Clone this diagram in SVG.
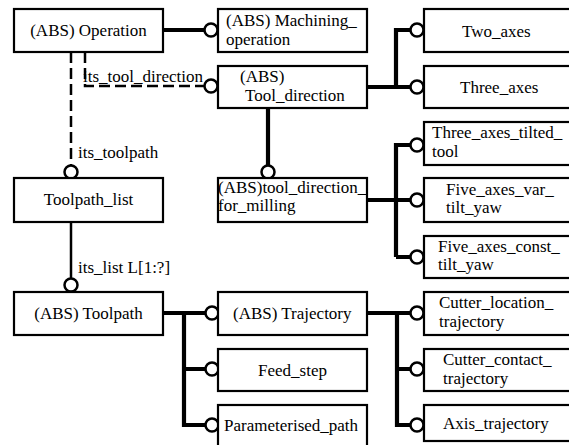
<svg xmlns="http://www.w3.org/2000/svg" width="569" height="445" viewBox="0 0 569 445">
  <style>
    .box { fill: #fff; stroke: #000; stroke-width: 2.2; }
    .t { font-family: "Liberation Serif", "Times New Roman", serif; font-size: 17px; fill: #000; }
    .c { text-anchor: middle; }
    .thick { fill: none; stroke: #000; stroke-width: 4.2; stroke-linejoin: miter; stroke-linecap: butt; }
    .thin { fill: none; stroke: #000; stroke-width: 2.5; }
    .dash { fill: none; stroke: #000; stroke-width: 2.5; stroke-dasharray: 11 5; }
    .end { fill: #fff; stroke: #000; stroke-width: 2.5; }
  </style>
  <rect x="0" y="0" width="569" height="445" fill="#fff"/>

  <!-- connectors -->
  <g id="connectors">
    <!-- Operation relations -->
    <path class="thick" d="M163,30 H205"/>
    <path class="dash" d="M85,52 V86 H205"/>
    <path class="dash" d="M71,52 V166"/>
    <path class="thin" d="M71,222 V278"/>
    <!-- Tool_direction subtypes -->
    <path class="thick" d="M268,108 V166"/>
    <path class="thick" d="M367,87 H410 M396,87 V30 H410"/>
    <!-- tool_direction_for_milling subtypes -->
    <path class="thick" d="M367,200 H410 M396,257 V145 H410 M396,257 H410"/>
    <!-- Toolpath subtypes -->
    <path class="thick" d="M163,313 H205 M184,313 V425 H205 M184,369 H205"/>
    <!-- Trajectory subtypes -->
    <path class="thick" d="M367,313 H410 M397,313 V425 H410 M397,369 H410"/>

    <circle class="end" cx="211" cy="30" r="6.5"/>
    <circle class="end" cx="211" cy="86" r="6.5"/>
    <circle class="end" cx="71" cy="172" r="6.5"/>
    <circle class="end" cx="71" cy="285" r="6.5"/>
    <circle class="end" cx="268" cy="172" r="6.5"/>
    <circle class="end" cx="417" cy="30" r="6.5"/>
    <circle class="end" cx="417" cy="87" r="6.5"/>
    <circle class="end" cx="417" cy="145" r="6.5"/>
    <circle class="end" cx="417" cy="200" r="6.5"/>
    <circle class="end" cx="417" cy="257" r="6.5"/>
    <circle class="end" cx="212" cy="313" r="6.5"/>
    <circle class="end" cx="212" cy="369" r="6.5"/>
    <circle class="end" cx="212" cy="425" r="6.5"/>
    <circle class="end" cx="417" cy="313" r="6.5"/>
    <circle class="end" cx="417" cy="369" r="6.5"/>
    <circle class="end" cx="417" cy="425" r="6.5"/>

    <text class="t" x="83" y="82">its_tool_direction</text>
    <text class="t" x="78" y="158">its_toolpath</text>
    <text class="t" x="78" y="273">its_list L[1:?]</text>
  </g>

  <g id="operation">
    <rect class="box" x="14" y="9" width="149" height="43"/>
    <text class="t c" x="88.5" y="36">(ABS) Operation</text>
  </g>
  <g id="machining_operation">
    <rect class="box" x="218" y="9" width="149" height="43"/>
    <text class="t" x="226" y="26">(ABS) Machining_</text>
    <text class="t" x="226" y="45">operation</text>
  </g>
  <g id="tool_direction">
    <rect class="box" x="218" y="66" width="149" height="42"/>
    <text class="t" x="240" y="82">(ABS)</text>
    <text class="t" x="245" y="101">Tool_direction</text>
  </g>
  <g id="two_axes">
    <rect class="box" x="424" y="9" width="150" height="43"/>
    <text class="t" x="462" y="37">Two_axes</text>
  </g>
  <g id="three_axes">
    <rect class="box" x="424" y="66" width="150" height="42"/>
    <text class="t" x="460" y="93">Three_axes</text>
  </g>
  <g id="toolpath_list">
    <rect class="box" x="14" y="178" width="149" height="44"/>
    <text class="t c" x="88.5" y="205">Toolpath_list</text>
  </g>
  <g id="tool_direction_for_milling">
    <rect class="box" x="218" y="178" width="149" height="44"/>
    <text class="t" x="218" y="193">(ABS)tool_direction_</text>
    <text class="t" x="218" y="211">for_milling</text>
  </g>
  <g id="three_axes_tilted_tool">
    <rect class="box" x="424" y="122" width="150" height="43"/>
    <text class="t" x="432" y="138">Three_axes_tilted_</text>
    <text class="t" x="432" y="157">tool</text>
  </g>
  <g id="five_axes_var_tilt_yaw">
    <rect class="box" x="424" y="178" width="150" height="44"/>
    <text class="t" x="446" y="195">Five_axes_var_</text>
    <text class="t" x="446" y="213">tilt_yaw</text>
  </g>
  <g id="five_axes_const_tilt_yaw">
    <rect class="box" x="424" y="236" width="150" height="42"/>
    <text class="t" x="438" y="252">Five_axes_const_</text>
    <text class="t" x="438" y="270">tilt_yaw</text>
  </g>
  <g id="toolpath">
    <rect class="box" x="14" y="292" width="149" height="43"/>
    <text class="t c" x="88.5" y="319">(ABS) Toolpath</text>
  </g>
  <g id="trajectory">
    <rect class="box" x="218" y="292" width="149" height="43"/>
    <text class="t" x="233" y="319">(ABS) Trajectory</text>
  </g>
  <g id="feed_step">
    <rect class="box" x="218" y="349" width="149" height="42"/>
    <text class="t c" x="292.5" y="376">Feed_step</text>
  </g>
  <g id="parameterised_path">
    <rect class="box" x="218" y="405" width="149" height="46"/>
    <text class="t" x="224" y="431">Parameterised_path</text>
  </g>
  <g id="cutter_location_trajectory">
    <rect class="box" x="424" y="292" width="150" height="43"/>
    <text class="t" x="439" y="308">Cutter_location_</text>
    <text class="t" x="439" y="327">trajectory</text>
  </g>
  <g id="cutter_contact_trajectory">
    <rect class="box" x="424" y="349" width="150" height="42"/>
    <text class="t" x="443" y="365">Cutter_contact_</text>
    <text class="t" x="443" y="384">trajectory</text>
  </g>
  <g id="axis_trajectory">
    <rect class="box" x="424" y="405" width="150" height="36"/>
    <text class="t" x="443" y="429">Axis_trajectory</text>
  </g>
</svg>
